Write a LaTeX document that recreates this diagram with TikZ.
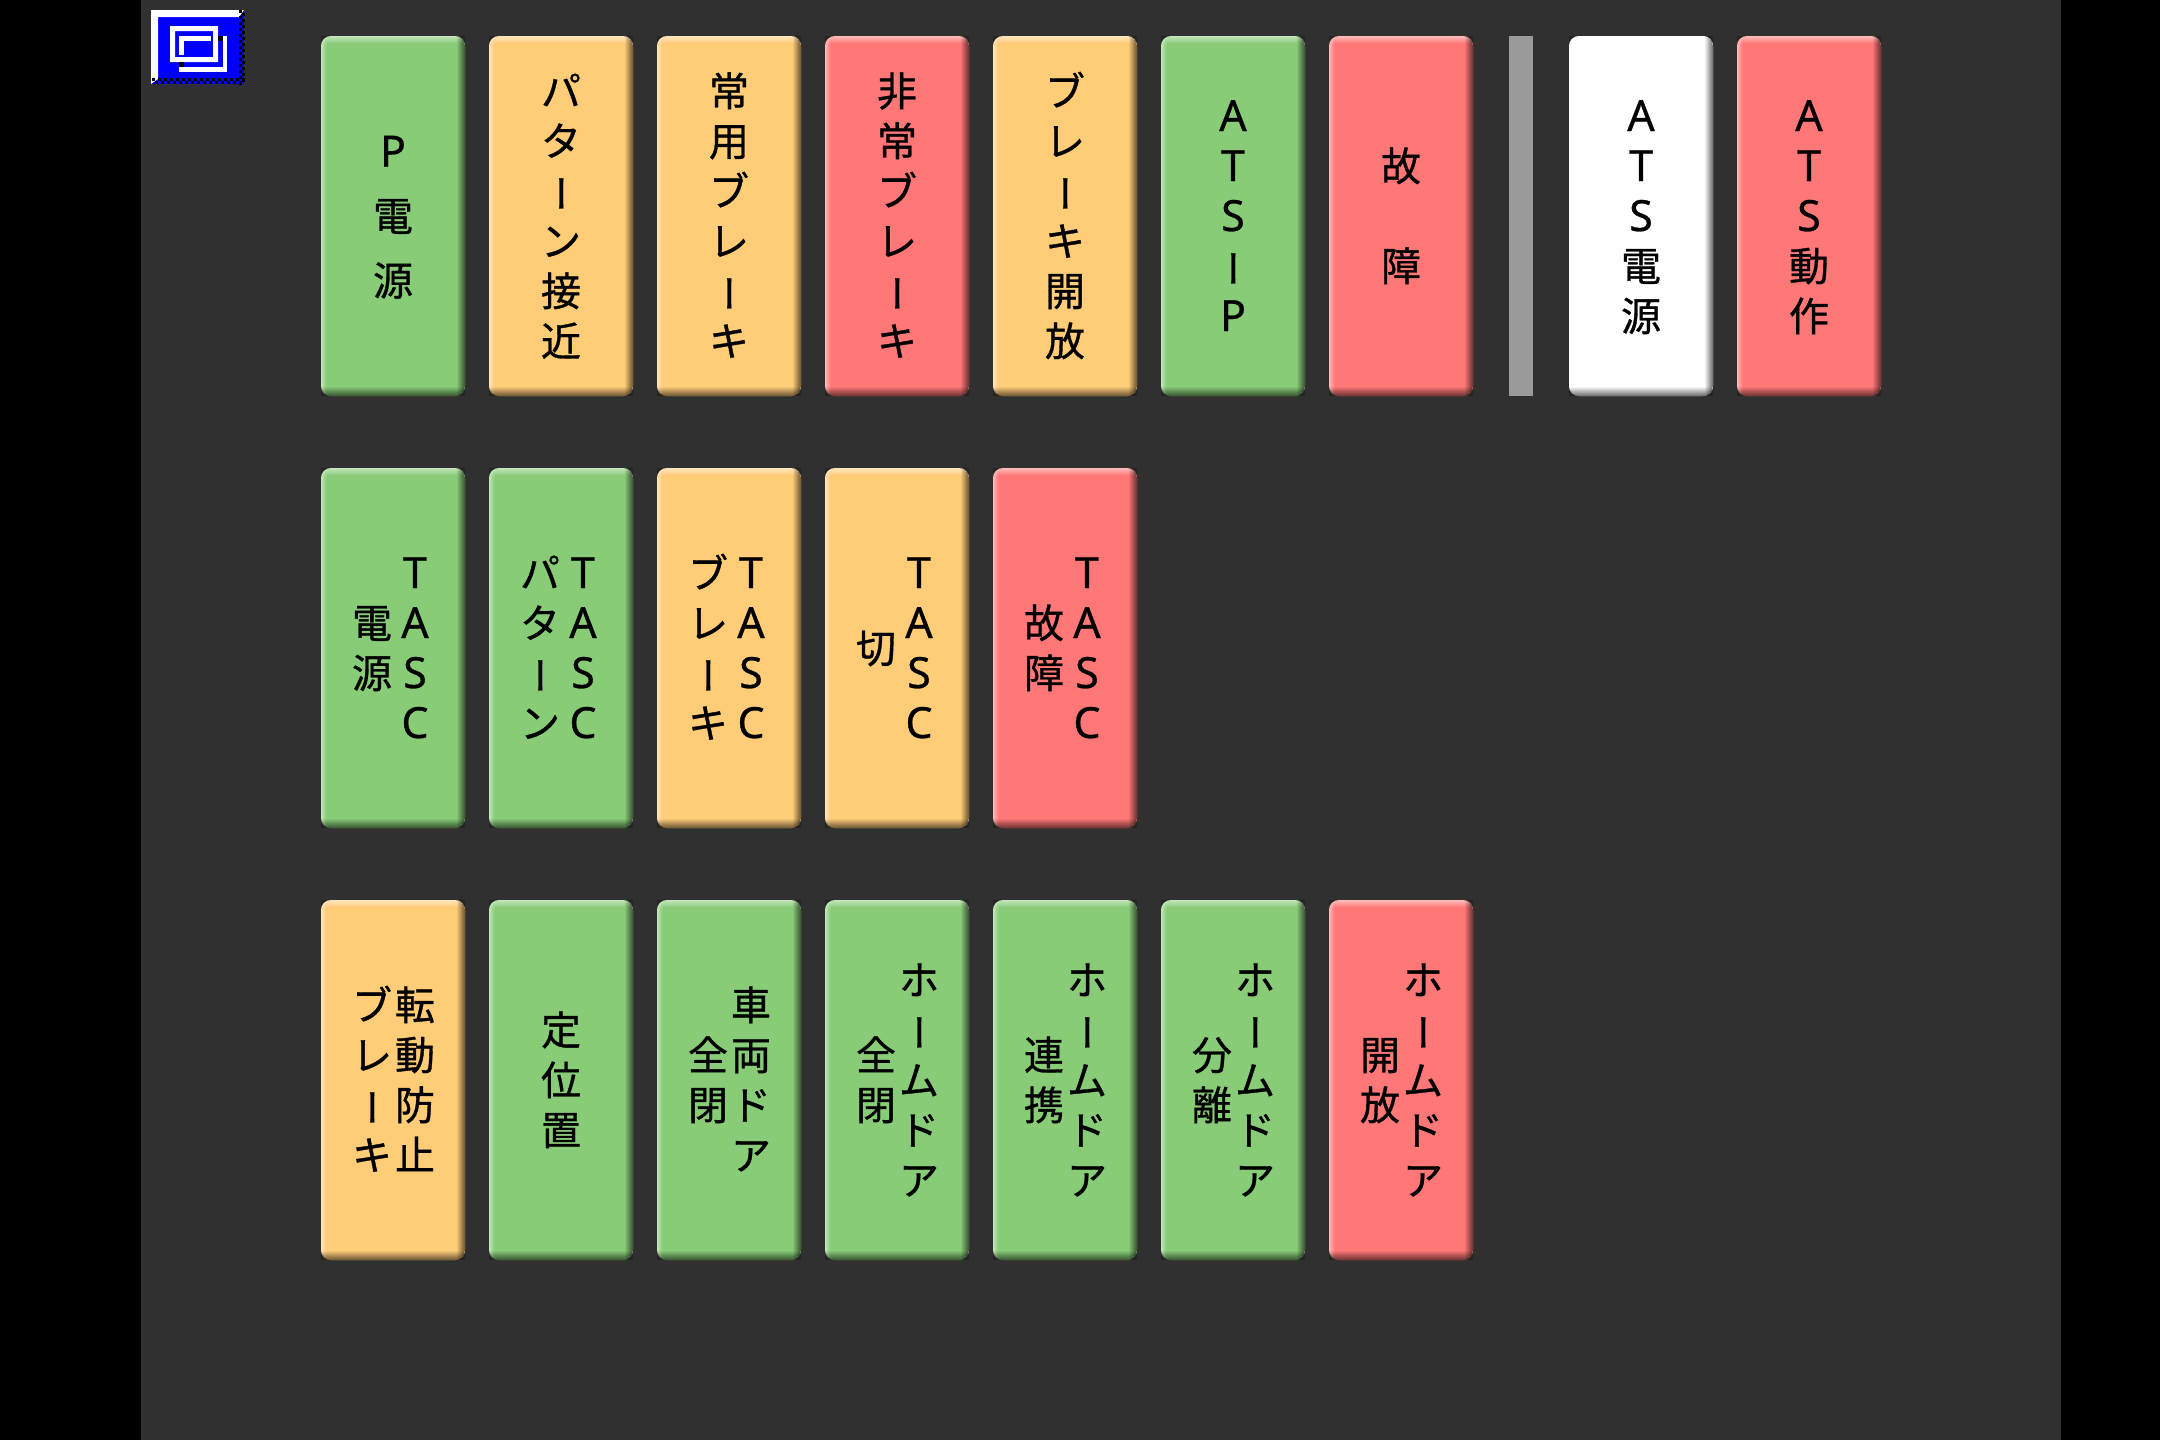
\documentclass[tikz,border=0pt]{standalone}
\usepackage{fontspec}
\usepackage{graphicx}
\setmainfont[RawFeature={embolden=0.8}]{Noto Sans CJK JP}
\newfontfamily\latfont[RawFeature={embolden=0.6}]{Noto Sans}
\usetikzlibrary{calc}
\definecolor{panel}{HTML}{303030}
\definecolor{cornerc}{HTML}{242424}
\definecolor{gn}{HTML}{88CC77}
\definecolor{og}{HTML}{FFCC77}
\definecolor{rd}{HTML}{FF7777}
\definecolor{wh}{HTML}{FFFFFF}
\definecolor{barc}{HTML}{9A9A9A}
\definecolor{iconblue}{HTML}{0000FF}
% one line of a label: exactly 50 units tall
\newcommand{\Ln}[1]{\rule[-10pt]{0pt}{50pt}#1}
\newcommand{\Lt}[1]{\Ln{{\latfont\fontsize{43}{50}\selectfont #1}}}
\newcommand{\Bar}{\Ln{\makebox[0pt][c]{\hspace*{14pt}\raisebox{4pt}[0pt][0pt]{\rotatebox[origin=c]{90}{\scalebox{.95}[1]{ー}}}}}}
\tikzset{
  x=1pt,y=-1pt,
  btn/.style={rectangle,rounded corners=10pt,minimum width=144pt,minimum height=360pt,inner sep=0pt,draw=none},
  lab/.style={inner sep=0pt,outer sep=0pt,align=center,text=black,font=\fontsize{40}{50}\selectfont},
  iconw/.style={fill=white,draw=none},
}
% \Btn{name}{col index x-left}{y-top}{colour}
\newcommand{\Btn}[4]{%
  \fill[cornerc] (#2,#3) rectangle ++(144,360);
  \node[btn,fill=#4] (#1) at (#2+72,#3+180) {};
  \begin{scope}
    \clip[rounded corners=10pt] (#2,#3) rectangle ++(144,360);
    \foreach \i/\o in {0/.50,1/.44,2/.37,3/.30,4/.23,5/.16,6/.09,7/.04}{
      \fill[white,opacity=\o] (#2,#3+\i) rectangle ++(144,1);
    }
    \foreach \i/\o in {0/.50,1/.40,2/.30,3/.20,4/.12,5/.05}{
      \fill[white,opacity=\o] (#2+\i,#3) rectangle ++(1,360);
    }
    \foreach \i/\o in {0/.52,1/.46,2/.40,3/.33,4/.26,5/.19,6/.12,7/.06}{
      \fill[black,opacity=\o] (#2+143-\i,#3) rectangle ++(1,360);
    }
    \foreach \i/\o in {0/.52,1/.47,2/.41,3/.35,4/.29,5/.23,6/.16,7/.10,8/.04}{
      \fill[black,opacity=\o] (#2,#3+359-\i) rectangle ++(144,1);
    }
  \end{scope}
}
\begin{document}
\begin{tikzpicture}
\useasboundingbox (0,0) rectangle (2160,1440);
\fill[black] (0,0) rectangle (2160,1440);
\fill[panel] (141,0) rectangle (2061,1440);

% icon
\fill[iconblue] (151,10) rectangle (244,84);
\fill[white] (151,10) -- (244,10) -- (239,17) -- (158,17) -- (158,79) -- (151,84) -- cycle;
\foreach \i in {0,...,24}{
  \foreach \j in {0,1}{
    \pgfmathtruncatemacro{\odd}{mod(\i+\j,2)}
    \ifnum\odd=0
      \fill[black] (238.5+\j*3,10+\i*3) rectangle ++(3,3);
    \fi
  }
}
\foreach \i in {0,...,30}{
  \foreach \j in {0,1}{
    \pgfmathtruncatemacro{\odd}{mod(\i+\j,2)}
    \ifnum\odd=0
      \fill[black] (152+\i*3,78+\j*3) rectangle ++(3,3);
    \fi
  }
}
\fill[iconw,even odd rule] (170,26) rectangle (218,62) (175,31) rectangle (213,57);
\fill[iconw] (179,36) rectangle (211,41);
\fill[iconw] (179,36) rectangle (184,55);
\fill[iconw] (223,36) rectangle (227,72);
\fill[iconw] (179,67) rectangle (227,72);
\fill[black] (218,36) rectangle (223,41);
\fill[black] (179,62) rectangle (184,67);

% row 1
\Btn{pden}{321}{36}{gn}
\Btn{pat}{489}{36}{og}
\Btn{jou}{657}{36}{og}
\Btn{hij}{825}{36}{rd}
\Btn{kai}{993}{36}{og}
\Btn{atsp}{1161}{36}{gn}
\Btn{koc}{1329}{36}{rd}
\node[rectangle,fill=barc,minimum width=24pt,minimum height=360pt,inner sep=0pt] (sep) at (1521,216) {};
\Btn{atsd}{1569}{36}{wh}
\Btn{atsa}{1737}{36}{rd}
% row 2
\Btn{t1}{321}{468}{gn}
\Btn{t2}{489}{468}{gn}
\Btn{t3}{657}{468}{og}
\Btn{t4}{825}{468}{og}
\Btn{t5}{993}{468}{rd}
% row 3
\Btn{r1}{321}{900}{og}
\Btn{r2}{489}{900}{gn}
\Btn{r3}{657}{900}{gn}
\Btn{r4}{825}{900}{gn}
\Btn{r5}{993}{900}{gn}
\Btn{r6}{1161}{900}{gn}
\Btn{r7}{1329}{900}{rd}

% labels row 1
\node[lab] (lpden) at (pden) {\Lt{P}\\[14.5pt]\Ln{電}\\[14.5pt]\Ln{源}};
\node[lab] (lpat) at (pat) {\Ln{パ}\\\Ln{タ}\\\Bar\\\Ln{ン}\\\Ln{接}\\\Ln{近}};
\node[lab] (ljou) at (jou) {\Ln{常}\\\Ln{用}\\\Ln{ブ}\\\Ln{レ}\\\Bar\\\Ln{キ}};
\node[lab] (lhij) at (hij) {\Ln{非}\\\Ln{常}\\\Ln{ブ}\\\Ln{レ}\\\Bar\\\Ln{キ}};
\node[lab] (lkai) at (kai) {\Ln{ブ}\\\Ln{レ}\\\Bar\\\Ln{キ}\\\Ln{開}\\\Ln{放}};
\node[lab] (latsp) at (atsp) {\Lt{A}\\\Lt{T}\\\Lt{S}\\\Bar\\\Lt{P}};
\node[lab] (lkoc) at (koc) {\Ln{故}\\[50pt]\Ln{障}};
\node[lab] (latsd) at (atsd) {\Lt{A}\\\Lt{T}\\\Lt{S}\\\Ln{電}\\\Ln{源}};
\node[lab] (latsa) at (atsa) {\Lt{A}\\\Lt{T}\\\Lt{S}\\\Ln{動}\\\Ln{作}};

% labels row 2
\node[lab] (lt1a) at ($(t1)+(22,0)$) {\Lt{T}\\\Lt{A}\\\Lt{S}\\\Lt{C}};
\node[lab] (lt1b) at ($(t1)+(-21,0)$) {\Ln{電}\\\Ln{源}};
\node[lab] (lt2a) at ($(t2)+(22,0)$) {\Lt{T}\\\Lt{A}\\\Lt{S}\\\Lt{C}};
\node[lab] (lt2b) at ($(t2)+(-21,0)$) {\Ln{パ}\\\Ln{タ}\\\Bar\\\Ln{ン}};
\node[lab] (lt3a) at ($(t3)+(22,0)$) {\Lt{T}\\\Lt{A}\\\Lt{S}\\\Lt{C}};
\node[lab] (lt3b) at ($(t3)+(-21,0)$) {\Ln{ブ}\\\Ln{レ}\\\Bar\\\Ln{キ}};
\node[lab] (lt4a) at ($(t4)+(22,0)$) {\Lt{T}\\\Lt{A}\\\Lt{S}\\\Lt{C}};
\node[lab] (lt4b) at ($(t4)+(-21,0)$) {\Ln{切}};
\node[lab] (lt5a) at ($(t5)+(22,0)$) {\Lt{T}\\\Lt{A}\\\Lt{S}\\\Lt{C}};
\node[lab] (lt5b) at ($(t5)+(-21,0)$) {\Ln{故}\\\Ln{障}};

% labels row 3
\node[lab] (lr1a) at ($(r1)+(22,0)$) {\Ln{転}\\\Ln{動}\\\Ln{防}\\\Ln{止}};
\node[lab] (lr1b) at ($(r1)+(-21,0)$) {\Ln{ブ}\\\Ln{レ}\\\Bar\\\Ln{キ}};
\node[lab] (lr2) at (r2) {\Ln{定}\\\Ln{位}\\\Ln{置}};
\node[lab] (lr3a) at ($(r3)+(22,0)$) {\Ln{車}\\\Ln{両}\\\Ln{ド}\\\Ln{ア}};
\node[lab] (lr3b) at ($(r3)+(-21,0)$) {\Ln{全}\\\Ln{閉}};
\node[lab] (lr4a) at ($(r4)+(22,0)$) {\Ln{ホ}\\\Bar\\\Ln{ム}\\\Ln{ド}\\\Ln{ア}};
\node[lab] (lr4b) at ($(r4)+(-21,0)$) {\Ln{全}\\\Ln{閉}};
\node[lab] (lr5a) at ($(r5)+(22,0)$) {\Ln{ホ}\\\Bar\\\Ln{ム}\\\Ln{ド}\\\Ln{ア}};
\node[lab] (lr5b) at ($(r5)+(-21,0)$) {\Ln{連}\\\Ln{携}};
\node[lab] (lr6a) at ($(r6)+(22,0)$) {\Ln{ホ}\\\Bar\\\Ln{ム}\\\Ln{ド}\\\Ln{ア}};
\node[lab] (lr6b) at ($(r6)+(-21,0)$) {\Ln{分}\\\Ln{離}};
\node[lab] (lr7a) at ($(r7)+(22,0)$) {\Ln{ホ}\\\Bar\\\Ln{ム}\\\Ln{ド}\\\Ln{ア}};
\node[lab] (lr7b) at ($(r7)+(-21,0)$) {\Ln{開}\\\Ln{放}};
\end{tikzpicture}
\end{document}
